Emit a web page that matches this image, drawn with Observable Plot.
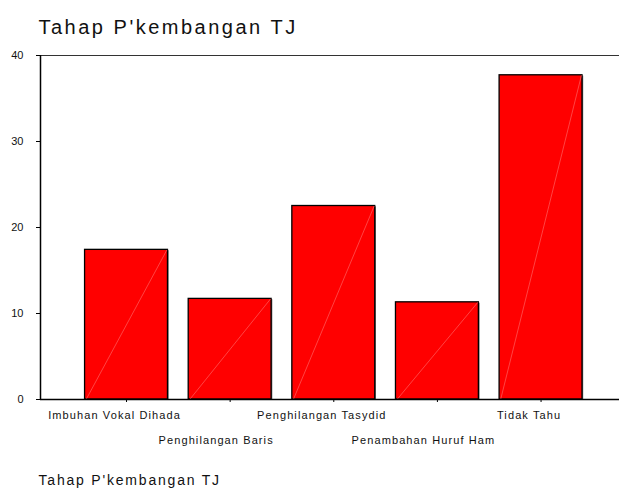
<!DOCTYPE html>
<html>
<head>
<meta charset="utf-8">
<script src="https://cdn.jsdelivr.net/npm/d3@7"></script>
<script src="https://cdn.jsdelivr.net/npm/@observablehq/plot@0.6"></script>
<style>
  html, body { margin: 0; padding: 0; background: #fff; }
  svg { display: block; font-family: "Liberation Sans", Arial, sans-serif; }
</style>
</head>
<body>
<div id="chart"></div>
<script>
const categories = ["Imbuhan Vokal Dihada", "Penghilangan Baris", "Penghilangan Tasydid", "Penambahan Huruf Ham", "Tidak Tahu"];
const values = [17.4, 11.7, 22.5, 11.3, 37.7];
const yTicks = [0, 10, 20, 30, 40];
const titleText = "Tahap P'kembangan TJ";

const data = categories.map((c, i) => ({ i, category: c, value: values[i], row: i % 2 }));

const chart = Plot.plot({
  width: 619,
  height: 492,
  marginTop: 55,
  marginBottom: 93,
  marginLeft: 40,
  marginRight: 0,
  style: { fontFamily: "'Liberation Sans', Arial, sans-serif", background: "#fff" },
  x: { type: "linear", domain: [-0.83, 4.757] },
  y: { type: "linear", domain: [0, 40] },
  marks: [
    Plot.ruleY([40], { stroke: "#333", strokeWidth: 1.2 }),
    Plot.ruleX([-0.83], { stroke: "#000", strokeWidth: 1.5 }),
    Plot.axisY({ ticks: yTicks, tickSize: 4, tickPadding: 13, fontSize: 11, stroke: "#000", fill: "#111", label: null }),
    Plot.axisX({ ticks: data.map(d => d.i), tickSize: 3, tickFormat: () => "", stroke: "#000", label: null }),
    Plot.rectY(data, { x1: d => d.i - 0.4, x2: d => d.i + 0.4, y: "value", fill: "#666", dx: 1.2, dy: 0.8 }),
    Plot.rectY(data, { x1: d => d.i - 0.4, x2: d => d.i + 0.4, y: "value", fill: "#ff0000", stroke: "#000", strokeWidth: 1.3 }),
    Plot.link(data, { x1: d => d.i - 0.39, y1: 0, x2: d => d.i + 0.39, y2: "value", stroke: "#ff7070", strokeWidth: 0.6 }),
    Plot.ruleY([0], { stroke: "#000", strokeWidth: 1.5 }),
    Plot.text(data.filter(d => d.row === 0), {
      x: "i", y: 0, text: "category", dx: -12, dy: 16,
      fontSize: 11, fill: "#111", ariaLabel: () => "xlabel"
    }),
    Plot.text(data.filter(d => d.row === 1), {
      x: "i", y: 0, text: "category", dx: -14, dy: 41,
      fontSize: 11, fill: "#111", ariaLabel: () => "xlabel"
    }),
    Plot.text([titleText], { frameAnchor: "top-left", text: d => d, dx: -2, dy: -36, fontSize: 20, fill: "#111", textAnchor: "start", ariaLabel: () => "title" }),
    Plot.text([titleText], { frameAnchor: "bottom-left", text: d => d, dx: -2, dy: 85, fontSize: 14, fill: "#111", textAnchor: "start", ariaLabel: () => "caption" })
  ]
});
const spacing = { xlabel: "1.1px", title: "2.5px", caption: "1.8px" };
for (const [key, ls] of Object.entries(spacing)) {
  chart.querySelectorAll(`[aria-label="${key}"]`).forEach(el => { el.style.letterSpacing = ls; });
}
document.getElementById("chart").appendChild(chart);
</script>
</body>
</html>
